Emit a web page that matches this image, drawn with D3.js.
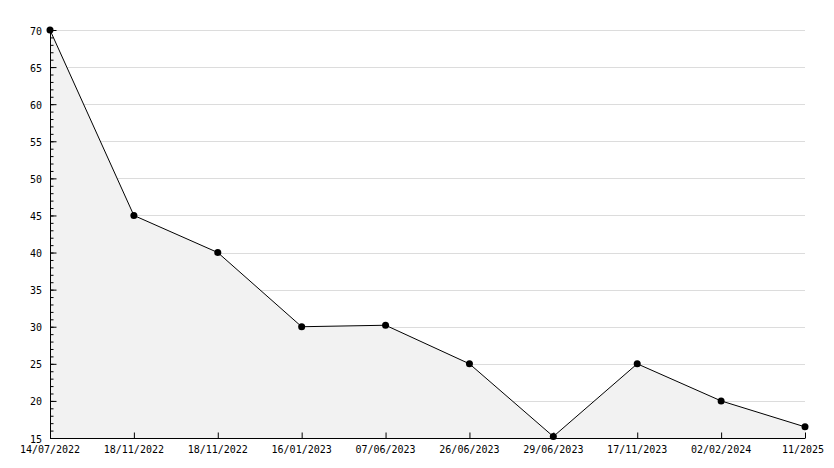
<!DOCTYPE html>
<html>
<head>
<meta charset="utf-8">
<script src="https://cdn.jsdelivr.net/npm/d3@7"></script>
<style>
  body { margin: 0; background: #fff; }
  text { font-family: "DejaVu Sans Mono", monospace; font-size: 10px; fill: #000; }
</style>
</head>
<body>
<div id="chart"></div>
<script>
var dates = ["14/07/2022", "18/11/2022", "18/11/2022", "16/01/2023", "07/06/2023",
             "26/06/2023", "29/06/2023", "17/11/2023", "02/02/2024", "11/2025"];
var values = [70, 45, 40, 30, 30.2, 25, 15.2, 25, 20, 16.5];
var yMajorTicks = [15, 20, 25, 30, 35, 40, 45, 50, 55, 60, 65, 70];

var width = 834,
    height = 468,
    plotLeft = 50, plotRight = 805, plotTop = 30, plotBottom = 438;

var svg = d3.select("#chart")
    .append("svg")
    .attr("width", width)
    .attr("height", height);

var idx = d3.range(dates.length);

var x = d3.scalePoint()
    .domain(idx)
    .range([plotLeft, plotRight]);

var y = d3.scaleLinear()
    .domain([15, 70])
    .range([plotBottom, plotTop]);

/* gridlines */
svg.append("g")
    .selectAll("line")
    .data(yMajorTicks.filter(function(d) { return d > 15; }))
    .enter().append("line")
    .attr("x1", plotLeft)
    .attr("x2", plotRight)
    .attr("y1", function(d) { return Math.round(y(d)) + 0.5; })
    .attr("y2", function(d) { return Math.round(y(d)) + 0.5; })
    .attr("stroke", "#dcdcdc")
    .attr("stroke-width", 1);

/* area */
var area = d3.area()
    .x(function(d, i) { return x(i); })
    .y0(y(15))
    .y1(function(d) { return y(d); });

svg.append("path")
    .datum(values)
    .attr("d", area)
    .attr("fill", "#f2f2f2");

/* line */
var line = d3.line()
    .x(function(d, i) { return x(i); })
    .y(function(d) { return y(d); });

svg.append("path")
    .datum(values)
    .attr("d", line)
    .attr("fill", "none")
    .attr("stroke", "#000")
    .attr("stroke-width", 1);

/* y axis: minor ticks every 1, major every 5, pointing inward */
var yAxis = d3.axisRight(y)
    .tickValues(yMajorTicks)
    .tickSize(6)
    .tickFormat("");

var yMinor = d3.axisRight(y)
    .tickValues(d3.range(15, 71, 1))
    .tickSize(3)
    .tickFormat("");

svg.append("g")
    .attr("transform", "translate(" + (plotLeft + 0.5) + ",0)")
    .call(yMinor)
    .call(function(g) { g.select(".domain").remove(); });

svg.append("g")
    .attr("transform", "translate(" + (plotLeft + 0.5) + ",0)")
    .call(yAxis)
    .call(function(g) { g.select(".domain").attr("d", "M0," + plotTop + "V" + plotBottom); });

svg.append("g")
    .selectAll("text")
    .data(yMajorTicks)
    .enter().append("text")
    .attr("x", plotLeft - 8)
    .attr("y", function(d) { return y(d) + 1; })
    .attr("dy", "0.35em")
    .attr("text-anchor", "end")
    .text(function(d) { return d; });

/* x axis: ticks point up */
var xAxis = d3.axisTop(x)
    .tickSize(6)
    .tickFormat("");

svg.append("g")
    .attr("transform", "translate(0," + (plotBottom + 0.5) + ")")
    .call(xAxis)
    .call(function(g) { g.select(".domain").attr("d", "M" + plotLeft + ",0H" + plotRight); });

svg.append("g")
    .selectAll("text")
    .data(idx)
    .enter().append("text")
    .attr("x", function(d, i) { return i === idx.length - 1 ? x(d) - 2 : x(d); })
    .attr("y", plotBottom + 15)
    .attr("text-anchor", "middle")
    .text(function(d) { return dates[d]; });

/* markers */
svg.append("g")
    .selectAll("circle")
    .data(values)
    .enter().append("circle")
    .attr("cx", function(d, i) { return x(i); })
    .attr("cy", function(d) { return y(d); })
    .attr("r", 3.5)
    .attr("fill", "#000");
</script>
</body>
</html>
